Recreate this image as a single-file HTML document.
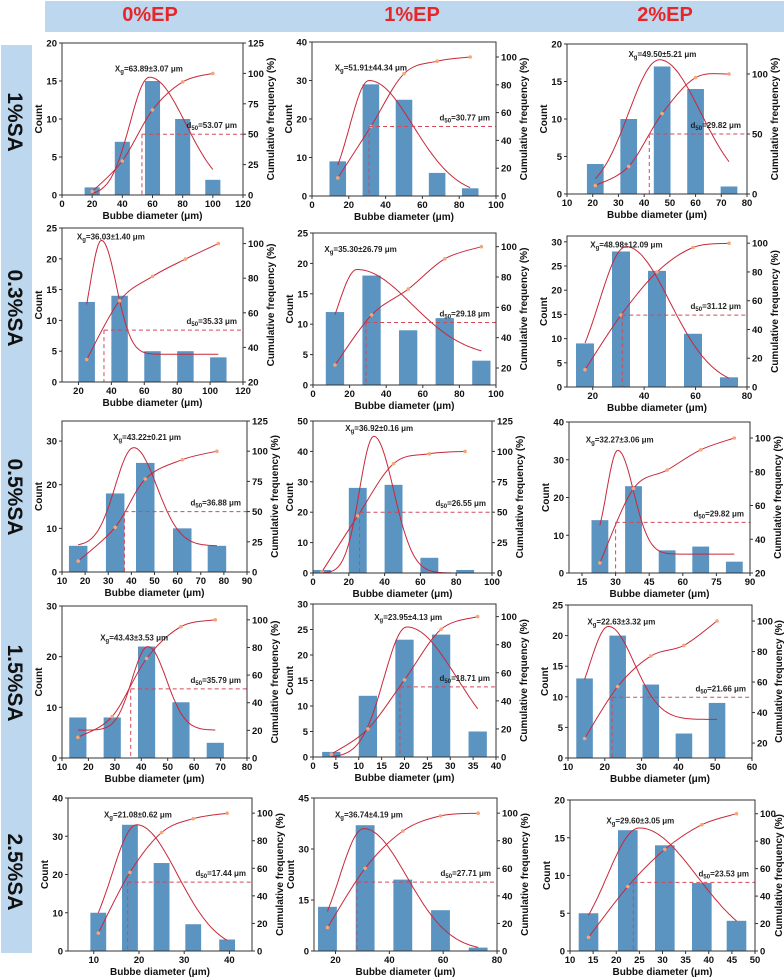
<!DOCTYPE html>
<html><head><meta charset="utf-8">
<style>
html,body{margin:0;padding:0;background:#fff;}
body{width:784px;height:979px;position:relative;overflow:hidden;font-family:"Liberation Sans",Arial,sans-serif;}
.hdr{position:absolute;left:45px;top:1px;width:739px;height:31px;background:#bdd7ee;}
.col{position:absolute;top:4px;font-weight:bold;font-size:20px;color:#e8262a;transform:translateX(-50%);}
.side{position:absolute;left:1px;top:45px;width:31px;height:908px;background:#bdd7ee;}
svg{position:absolute;left:0;top:0;}
</style></head>
<body>
<div class="hdr"></div>
<div class="col" style="left:150px">0%EP</div>
<div class="col" style="left:412px">1%EP</div>
<div class="col" style="left:665px">2%EP</div>
<div class="side"></div>
<svg id="fig" width="784" height="979" xmlns="http://www.w3.org/2000/svg">
<g font-family="Liberation Sans, Arial, sans-serif" font-weight="bold" font-size="21" fill="#111" text-anchor="middle">
<text transform="translate(8,122) rotate(90)">1%SA</text>
<text transform="translate(8,308) rotate(90)">0.3%SA</text>
<text transform="translate(8,497) rotate(90)">0.5%SA</text>
<text transform="translate(8,683) rotate(90)">1.5%SA</text>
<text transform="translate(8,872) rotate(90)">2.5%SA</text>
</g>
</svg>
<script>
// ---- data ----
const binCenters = [
 [20,40,60,80,100],[14,32,50,68,86],[21,34,47,60,73],
 [25,45,65,85,105],[12,32,52,72,92],[17,31,45,59,73],
 [17,33,46,62,77],[5,25,45,65,85],[23,38,53,68,83],
 [16,29,42,55,68],[4,12,20,28,36],[14.5,23.5,32.5,41.5,50.5],
 [11,18,25,32,39.5],[17,31,45,59,73],[14,22.5,30.5,38.5,46]];
const counts = [
 [1,7,15,10,2],[9,29,25,6,2],[4,10,17,14,1],
 [13,14,5,5,4],[12,18,9,11,4],[9,28,24,11,2],
 [6,18,25,10,6],[1,28,29,5,1],[14,23,6,7,3],
 [8,8,22,11,3],[1,12,23,24,5],[13,20,12,4,9],
 [10,33,23,7,3],[13,37,21,12,1],[5,16,14,9,4]];
const cumPct = [
 [3,28,70,93,100],[13,50,88,97,100],[7,23,67,97,100],
 [33,67,81,91,100],[22,55,72,92,100],[12,50,80,97,100],
 [9,37,77,93,100],[1,47,90,98,100],[26,70,81,93,100],
 [15,30,72,95,100],[2,20,55,91,100],[23,57,77,84,100],
 [13,57,86,96,100],[17,60,87,98,100],[10,47,74,92,100]];
// fit: [mu, amplitude, sigmaLeft, sigmaRight, baseline]
const fitParams = [
 [58,15.5,13,24,0],[31,30,10.5,24,0],[46,17.9,12,16,0],
 [34,18.5,7,9,4.5],[24,14.5,10,30,4.5],[33,29,10.5,17,0],
 [41,22.5,8,10,6],[34,45,8,11,0],[31,27.5,5,7,5],
 [42.5,16.5,6,7,5.5],[20.5,25.5,5,11,0],[21,15.2,5,7,6.3],
 [19.5,33,5.5,9,0],[30.5,36,9,16,0],[25,16.3,7,12.5,0]];
const d50Values = ["53.07","30.77","29.82","35.33","29.18","31.12","36.88","26.55","29.82","35.79","18.71","21.66","17.44","27.71","23.53"];
const d50Pos = [53,31,42,35.5,29,31.5,37,26,30,36,19,22,17.5,28,23.7];
const xgValues = ["63.89±3.07","51.91±44.34","49.50±5.21","36.03±1.40","35.30±26.79","48.98±12.09","43.22±0.21","36.92±0.16","32.27±3.06","43.43±3.53","23.95±4.13","22.63±3.32","21.08±0.62","36.74±4.19","29.60±3.05"];
const xDomains = [[0,120],[0,100],[10,80],[10,120],[0,100],[10,80],[10,90],[0,100],[9.2,90],[10,80],[0,40],[10,60],[4.3,45],[12,80],[10,50]];
const xTickSpec = [[0,120,20],[0,100,20],[10,80,10],[20,120,20],[0,100,20],[20,80,20],[10,90,10],[0,100,20],[15,90,15],[10,80,10],[0,40,5],[10,60,10],[10,40,10],[20,80,20],[10,50,5]];
const yDomains = [[0,20],[0,40],[0,20],[0,25],[0,25],[0,31.2],[0,34.6],[0,50],[0,40],[0,30],[0,30],[0,25],[0,40],[0,45],[0,20]];
const yTickSpec = [[0,20,5],[0,40,10],[0,20,5],[0,25,5],[0,25,5],[0,30,5],[0,30,10],[0,50,10],[0,40,10],[0,30,10],[0,30,5],[0,25,5],[0,40,10],[0,45,15],[0,20,5]];
const rDomains = [[0,125],[0,110.8],[0,125],[20,109],[8.8,109],[0,105],[0,125],[0,125],[20,109.5],[0,110],[0,109],[10.2,110.5],[0,111],[0,111],[0,110]];
const rTickSpec = [[0,125,25],[0,100,20],[0,100,50],[20,100,20],[20,100,20],[0,100,20],[0,125,25],[0,125,25],[20,100,20],[0,100,20],[0,100,20],[20,100,20],[0,100,20],[0,100,20],[0,100,20]];
// ---- layout ----
const boxes = [[62,43,243,195],[312,42,496,196],[567,44,747,194],
 [62,228,243,382],[313,233,496,385],[567,236,747,387],
 [62,421,247,572],[313,421,492,573],[569,422,750,573],
 [62,606,247,758],[313,604,496,757],[568,605,752,758],
 [68,798,252,951],[314,798,497,951],[570,800,755,951]];
const xgPos = [[0.48,0.16],[0.32,0.16],[0.53,0.06],[0.27,0.05],[0.26,0.1],[0.33,0.05],[0.46,0.1],[0.37,0.04],[0.28,0.11],[0.39,0.2],[0.52,0.08],[0.29,0.1],[0.38,0.1],[0.30,0.1],[0.38,0.13]];

const NS="http://www.w3.org/2000/svg";
const svg=document.getElementById('fig');
function mk(tag,attrs,parent){const e=document.createElementNS(NS,tag);for(const k in attrs)e.setAttribute(k,attrs[k]);(parent||svg).appendChild(e);return e;}
function rng(s){const o=[];for(let v=s[0];v<=s[1]+1e-9;v+=s[2])o.push(+v.toFixed(4));return o;}
function spline(pts){let d='M'+pts[0][0]+','+pts[0][1];for(let i=0;i<pts.length-1;i++){const p0=pts[Math.max(0,i-1)],p1=pts[i],p2=pts[i+1],p3=pts[Math.min(pts.length-1,i+2)];
 const c1=[p1[0]+(p2[0]-p0[0])/6,p1[1]+(p2[1]-p0[1])/6],c2=[p2[0]-(p3[0]-p1[0])/6,p2[1]-(p3[1]-p1[1])/6];
 d+=` C${c1[0]},${c1[1]} ${c2[0]},${c2[1]} ${p2[0]},${p2[1]}`;}return d;}

for(let p=0;p<15;p++){
 const [L,T,R,B]=boxes[p];
 const g=mk('g',{'font-family':'Liberation Sans, Arial, sans-serif'});
 
 
 const xs=v=>L+(v-xDomains[p][0])/(xDomains[p][1]-xDomains[p][0])*(R-L);
 const ys=v=>B-(v-yDomains[p][0])/(yDomains[p][1]-yDomains[p][0])*(B-T);
 const rs=v=>B-(v-rDomains[p][0])/(rDomains[p][1]-rDomains[p][0])*(B-T);
 const bc=binCenters[p];
 const bw=(xs(bc[1])-xs(bc[0]))*0.5;
 bc.forEach((c,i)=>{
  const r=mk('rect',{x:xs(c)-bw/2,y:ys(counts[p][i]),width:bw,height:B-ys(counts[p][i]),fill:'#5b93c1'},g);
  
  
 });
 const [mu,A,sL,sR,base]=fitParams[p];
 let fp=[];const x0=bc[0],x1=bc[bc.length-1];
 for(let k=0;k<=80;k++){const x=x0+(x1-x0)*k/80;const s=x<mu?sL:sR;fp.push(xs(x).toFixed(1)+','+ys(base+A*Math.exp(-(x-mu)*(x-mu)/(2*s*s))).toFixed(1));}
 const fl=mk('polyline',{points:fp.join(' '),fill:'none',stroke:'#c8283a','stroke-width':1},g);
 
 
 const cp=bc.map((c,i)=>[+xs(c).toFixed(1),+rs(cumPct[p][i]).toFixed(1)]);
 const cl=mk('path',{d:spline(cp),fill:'none',stroke:'#c8283a','stroke-width':1},g);
 
 
 cp.forEach(q=>{const c=mk('circle',{cx:q[0],cy:q[1],r:1.8,fill:'#f4a77a'},g);
  
  });
 const dx=xs(d50Pos[p]),dy=rs(50);
 const hl=mk('line',{x1:dx,y1:dy,x2:R,y2:dy,stroke:'#d04a5a','stroke-width':1,'stroke-dasharray':'4,3'},g);
 
 
 const vl=mk('line',{x1:dx,y1:dy,x2:dx,y2:B,stroke:'#d04a5a','stroke-width':1,'stroke-dasharray':'4,3'},g);
 
 
 const dt=mk('text',{x:R-6,y:dy-6,'text-anchor':'end','font-size':8,'font-weight':'bold',fill:'#222'},g);
 dt.innerHTML='d<tspan font-size="6" dy="2">50</tspan><tspan dy="-2">='+d50Values[p]+' μm</tspan>';
 
 
 const xt=mk('text',{x:L+xgPos[p][0]*(R-L),y:T+xgPos[p][1]*(B-T)+4,'text-anchor':'middle','font-size':8,'font-weight':'bold',fill:'#222'},g);
 xt.innerHTML='X<tspan font-size="6" dy="2">g</tspan><tspan dy="-2">='+xgValues[p]+' μm</tspan>';
 
 
 const fr=mk('rect',{x:L,y:T,width:R-L,height:B-T,fill:'none',stroke:'#333','stroke-width':1},g);
 
 
 rng(xTickSpec[p]).forEach(v=>{const x=xs(v);mk('line',{x1:x,y1:B,x2:x,y2:B+3,stroke:'#333'},g);
  const t=mk('text',{x:x,y:B+12,'text-anchor':'middle','font-size':9.5,'font-weight':'bold',fill:'#111'},g);t.textContent=v;
  
  });
 rng(yTickSpec[p]).forEach(v=>{const y=ys(v);mk('line',{x1:L-3,y1:y,x2:L,y2:y,stroke:'#333'},g);
  const t=mk('text',{x:L-5,y:y+3.5,'text-anchor':'end','font-size':9.5,'font-weight':'bold',fill:'#111'},g);t.textContent=v;
  
  });
 rng(rTickSpec[p]).forEach(v=>{const y=rs(v);mk('line',{x1:R,y1:y,x2:R+3,y2:y,stroke:'#333'},g);
  const t=mk('text',{x:R+5,y:y+3.5,'text-anchor':'start','font-size':9.5,'font-weight':'bold',fill:'#111'},g);t.textContent=v;
  
  });
 const xl=mk('text',{x:(L+R)/2,y:B+24,'text-anchor':'middle','font-size':10,'font-weight':'bold',fill:'#111'},g);xl.textContent='Bubbe diameter (μm)';
 
 
 const yl=mk('text',{x:0,y:0,'text-anchor':'middle','font-size':10,'font-weight':'bold',fill:'#111',transform:`translate(${L-20},${(T+B)/2}) rotate(-90)`},g);yl.textContent='Count';
 
 
 const rx=Math.min(R+31,782);
 const rl=mk('text',{x:0,y:0,'text-anchor':'middle','font-size':10,'font-weight':'bold',fill:'#111',transform:`translate(${rx},${(T+B)/2}) rotate(-90)`},g);rl.textContent='Cumulative frequency (%)';
 
 
}
</script>
</body></html>
